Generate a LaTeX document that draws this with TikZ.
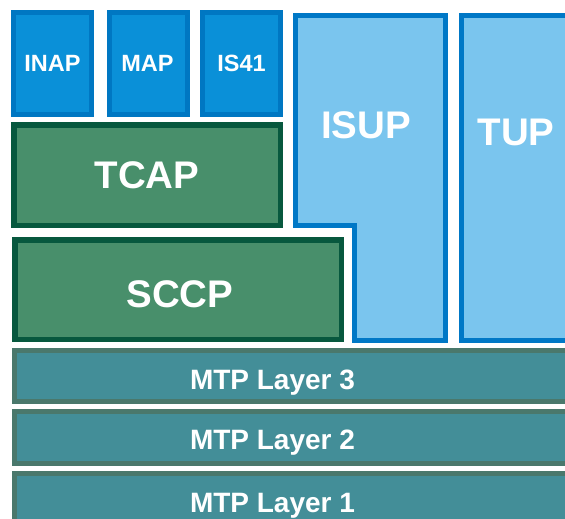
\documentclass[tikz,border=0pt]{standalone}
\usepackage{fontspec}
\setmainfont{Liberation Sans}
\definecolor{bfill}{HTML}{0A90D8}
\definecolor{bline}{HTML}{0077C2}
\definecolor{lfill}{HTML}{7AC5EE}
\definecolor{lline}{HTML}{0078C6}
\definecolor{gfill}{HTML}{488F6B}
\definecolor{gline}{HTML}{07583E}
\definecolor{tfill}{HTML}{438E98}
\definecolor{tline}{HTML}{4A786C}
\begin{document}
\begin{tikzpicture}[x=1pt,y=-1pt,
  small/.style={draw=bline,fill=bfill,line width=5pt,minimum width=78pt,minimum height=102pt,inner sep=0pt},
  gbox/.style={draw=gline,fill=gfill,line width=5.5pt},
  lbox/.style={draw=lline,fill=lfill,line width=5pt},
  tbox/.style={draw=tline,fill=tfill,line width=5pt},
  stxt/.style={anchor=base,text=white,inner sep=0pt,font=\fontsize{23.5}{26}\selectfont\bfseries},
  big/.style={anchor=base,text=white,inner sep=0pt,font=\fontsize{38.5}{42}\selectfont\bfseries},
  mtp/.style={anchor=base,text=white,inner sep=0pt,font=\fontsize{28}{30}\selectfont\bfseries}]
\useasboundingbox (0,0) rectangle (565,519);
\clip (0,0) rectangle (565,519);
\fill[white] (0,0) rectangle (565,519);
% top application parts
\node[small] (inapbox) at (52.5,63.5) {};
\node[stxt] (inap) at (52.5,71) {INAP};
\node[small] (mapbox) at (148.5,63.5) {};
\node[stxt] (map) at (147.5,71) {MAP};
\node[small] (is41box) at (241.5,63.5) {};
\node[stxt] (is41) at (241.5,71) {IS41};
% TCAP and SCCP
\draw[gbox] (13.75,124.75) rectangle (280.25,225.25);
\node[big] (tcap) at (147,188) {TCAP};
\draw[gbox] (14.75,239.75) rectangle (341.25,339.25);
\node[big] (sccp) at (180,307) {SCCP};
% ISUP L shape
\draw[lbox] (295.5,15.5) -- (445.5,15.5) -- (445.5,340.5) -- (354.5,340.5) -- (354.5,225.5) -- (295.5,225.5) -- cycle;
\node[big] (isup) at (366,138) {ISUP};
% TUP
\draw[lbox] (461.5,15.5) rectangle (600,340.5);
\node[big] (tup) at (516,145) {TUP};
% MTP layers
\draw[tbox] (14.5,350.5) rectangle (600,401.5);
\node[mtp] (mtp3) at (272.5,389) {MTP Layer 3};
\draw[tbox] (14.5,411.5) rectangle (600,463.5);
\node[mtp] (mtp2) at (272.5,449) {MTP Layer 2};
\draw[tbox] (14.5,473.5) rectangle (600,560);
\node[mtp] (mtp1) at (272.5,512) {MTP Layer 1};
\end{tikzpicture}
\end{document}
